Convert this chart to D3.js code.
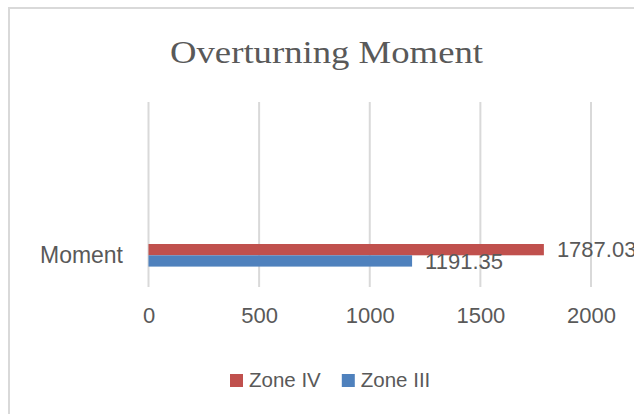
<!DOCTYPE html>
<html>
<head>
<meta charset="utf-8">
<script src="https://cdn.jsdelivr.net/npm/d3@7"></script>
<style>
  html, body { margin: 0; padding: 0; background: #fff; overflow: hidden; }
  svg { display: block; }
</style>
</head>
<body>
<svg id="chart" width="634" height="414"></svg>
<script>
const categories = ["Moment"];
const seriesNames = ["Zone IV", "Zone III"];
const seriesValues = [1787.03, 1191.35];
const seriesColors = ["#c0504d", "#4f81bd"];
const tickValues = [0, 500, 1000, 1500, 2000];
const titleText = "Overturning Moment";

const svg = d3.select("#chart");
const textColor = "#595959";
const gridColor = "#d9d9d9";

// chart border
svg.append("rect")
  .attr("x", 9).attr("y", 8)
  .attr("width", 700).attr("height", 500)
  .attr("fill", "#fff")
  .attr("stroke", gridColor).attr("stroke-width", 2);

// title
svg.append("text")
  .attr("x", 326.5).attr("y", 62.5)
  .attr("text-anchor", "middle")
  .attr("font-family", "'Liberation Serif', 'Times New Roman', serif")
  .attr("font-size", 31.5)
  .attr("fill", textColor)
  .attr("textLength", 313)
  .attr("lengthAdjust", "spacingAndGlyphs")
  .text(titleText);

const plotTop = 102, plotBottom = 287;
const x = d3.scaleLinear().domain([0, 2000]).range([148.5, 591]);
const y = d3.scaleBand().domain(categories).range([244, 266.6]).padding(0);
const ySub = d3.scaleBand().domain(seriesNames).range([0, y.bandwidth()]);

// gridlines
svg.append("g").selectAll("line")
  .data(tickValues)
  .join("line")
  .attr("x1", d => x(d)).attr("x2", d => x(d))
  .attr("y1", plotTop).attr("y2", plotBottom)
  .attr("stroke", gridColor).attr("stroke-width", 2);

// x axis tick labels
const xAxis = d3.axisBottom(x).tickValues(tickValues).tickSize(0).tickPadding(0).tickFormat(d3.format("d"));
const gx = svg.append("g").attr("transform", `translate(0, ${plotBottom})`).call(xAxis);
gx.select(".domain").remove();
gx.selectAll("text")
  .attr("y", 36.3).attr("dy", null)
  .attr("font-family", "'Liberation Sans', Arial, sans-serif")
  .attr("font-size", 22)
  .attr("fill", textColor);

// category labels
svg.append("g").selectAll("text")
  .data(categories)
  .join("text")
  .attr("x", 123)
  .attr("y", d => y(d) + y.bandwidth() / 2)
  .attr("dy", "0.33em")
  .attr("text-anchor", "end")
  .attr("font-family", "'Liberation Sans', Arial, sans-serif")
  .attr("font-size", 24)
  .attr("textLength", 83)
  .attr("lengthAdjust", "spacingAndGlyphs")
  .attr("fill", textColor)
  .text(d => d);

// bars
const barData = seriesNames.map((s, i) => ({ cat: categories[0], series: s, value: seriesValues[i], color: seriesColors[i] }));
svg.append("g").selectAll("rect")
  .data(barData)
  .join("rect")
  .attr("x", x(0))
  .attr("y", d => y(d.cat) + ySub(d.series))
  .attr("width", d => x(d.value) - x(0))
  .attr("height", ySub.bandwidth())
  .attr("fill", d => d.color);

// data labels
svg.append("g").selectAll("text")
  .data(barData)
  .join("text")
  .attr("x", d => x(d.value) + 13)
  .attr("y", d => y(d.cat) + ySub(d.series) + ySub.bandwidth() / 2)
  .attr("dy", "0.35em")
  .attr("font-family", "'Liberation Sans', Arial, sans-serif")
  .attr("font-size", 22)
  .attr("fill", textColor)
  .text(d => d3.format(".2f")(d.value));

// legend
const legend = svg.append("g").attr("transform", "translate(230, 374)");
let lx = 0;
seriesNames.forEach((s, i) => {
  const g = legend.append("g").attr("transform", `translate(${lx}, 0)`);
  g.append("rect").attr("width", 13).attr("height", 13).attr("fill", seriesColors[i]);
  const t = g.append("text")
    .attr("x", 19).attr("y", 13.3)
    .attr("font-family", "'Liberation Sans', Arial, sans-serif")
    .attr("font-size", 20.5)
    .attr("fill", textColor)
    .text(s);
  lx += 19 + t.node().getComputedTextLength() + 21;
});
</script>
</body>
</html>
